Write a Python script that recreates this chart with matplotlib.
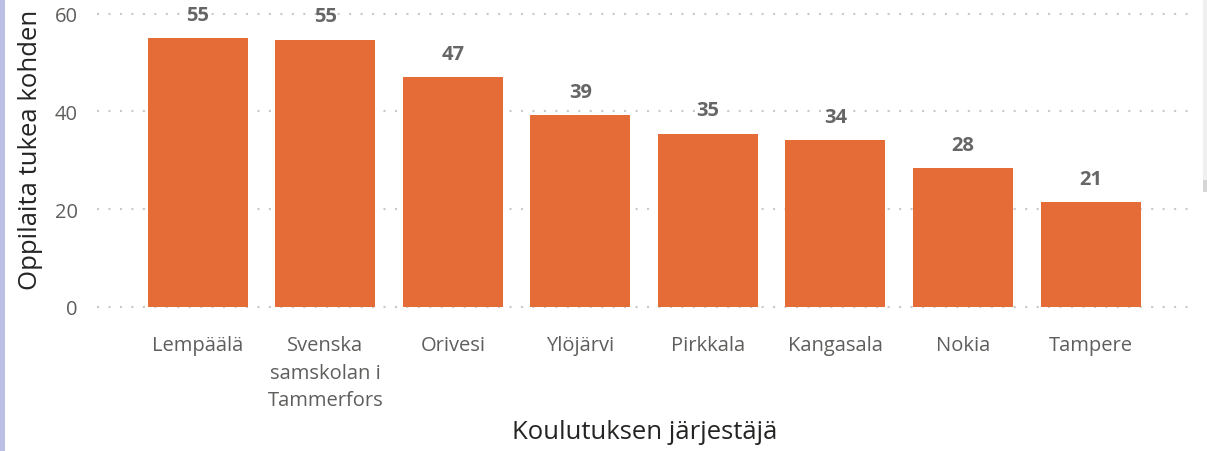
import matplotlib
matplotlib.use("Agg")
import matplotlib.pyplot as plt
import numpy as np
from matplotlib.patches import Rectangle

# data
organisers = ["Lempäälä", "Svenska\nsamskolan i\nTammerfors", "Orivesi", "Ylöjärvi",
              "Pirkkala", "Kangasala", "Nokia", "Tampere"]
pupils_per_aid = [55.0, 54.7, 47.0, 39.2, 35.4, 34.1, 28.4, 21.4]
y_ticks = [0, 20, 40, 60]

bar_color = "#E66C37"
label_gray = "#605E5C"

plt.rcParams['font.family'] = ['Open Sans', 'DejaVu Sans']

W, H = 1207, 452
fig = plt.figure(figsize=(W / 100, H / 100), dpi=100)
fig.patch.set_facecolor("white")

# axes placement in pixels
left, right, top, bottom = 97, 1190, 14.7, 308
ax = fig.add_axes([left / W, 1 - bottom / H, (right - left) / W, (bottom - top) / H])

x = np.arange(len(organisers))
ax.bar(x, pupils_per_aid, width=0.784, color=bar_color, zorder=2)

ax.set_xlim(-0.79, len(organisers) - 1 + 0.78)
ax.set_ylim(0, 60)
ax.set_yticks(y_ticks)
ax.set_xticks(x)
ax.set_xticklabels(organisers, fontsize=14.5, color=label_gray, linespacing=1.5)
ax.tick_params(axis='x', length=0, pad=20.5)
ax.tick_params(axis='y', length=0, pad=14, labelsize=14.5, labelcolor=label_gray)

for s in ax.spines.values():
    s.set_visible(False)

# dotted grid
for t in y_ticks:
    ax.axhline(t, color="#C8C8C8", lw=1.5, linestyle=(0, (1, 4.5)), zorder=1, clip_on=False)

# data labels
for xi, v in zip(x, pupils_per_aid):
    ax.annotate(f"{v:.0f}", (xi, v), xytext=(0, 17), textcoords='offset points',
                ha='center', va='center', fontsize=14.5, fontweight='bold',
                color="#666666", clip_on=False, zorder=3)

# axis titles
fig.text(31 / W, 1 - 150 / H, "Oppilaita tukea kohden", rotation=90, ha='center', va='center',
         fontsize=18.5, color="#252423")
fig.text(645 / W, 1 - 433 / H, "Koulutuksen järjestäjä", ha='center', va='center',
         fontsize=18.5, color="#252423")

# left accent strip and right scrollbar
fig.add_artist(Rectangle((0, 0), 5 / W, 1, transform=fig.transFigure,
                         color="#BCBFE4", lw=0))
fig.add_artist(Rectangle((1203 / W, 1 - 193 / H), 4 / W, 193 / H, transform=fig.transFigure,
                         color="#F0F0F0", lw=0))
fig.add_artist(Rectangle((1203 / W, 1 - 193 / H), 4 / W, 12 / H, transform=fig.transFigure,
                         color="#D6D6D6", lw=0))

fig.savefig("out.png", dpi=100, facecolor="white")
